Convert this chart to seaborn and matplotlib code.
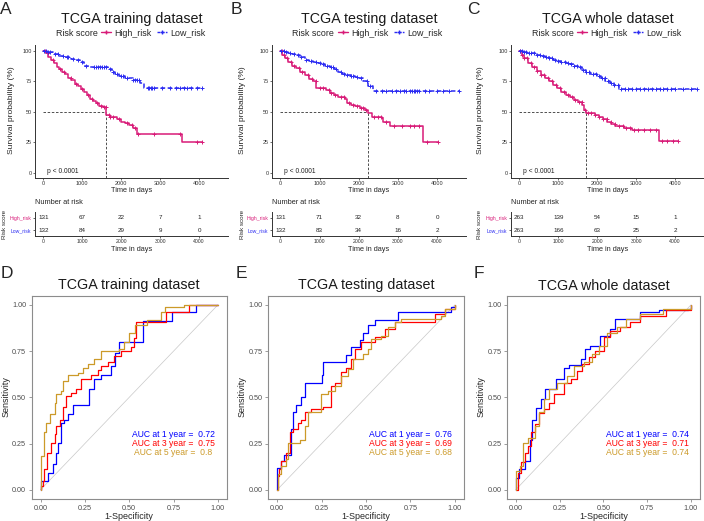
import numpy as np
import pandas as pd
import matplotlib
matplotlib.use("Agg")
import matplotlib.pyplot as plt
from matplotlib.lines import Line2D
import seaborn as sns

W, H = 704, 521

titles = ["TCGA training dataset", "TCGA testing dataset", "TCGA whole dataset"]
km_letters = ["A", "B", "C"]
roc_letters = ["D", "E", "F"]
groups = ["High_risk", "Low_risk"]

# Kaplan-Meier curves (days, survival %)
a_high_t = [0, 60, 130, 200, 270, 340, 410, 480, 560, 640, 720, 800, 880, 960, 1040, 1120, 1200, 1280, 1360, 1440, 1520, 1611, 1700, 1800, 1900, 2000, 2100, 2200, 2300, 2413, 3555, 4084]
a_high_s = [100, 98, 95, 93, 90, 87, 85, 83, 81, 78, 76, 73, 71, 69, 66, 64, 61, 59, 57, 55, 54, 47.5, 46, 45.5, 44, 42, 41, 39, 37, 32, 25.5, 25.5]
a_low_t = [0, 100, 250, 400, 550, 700, 850, 950, 1050, 1200, 1500, 1650, 1750, 1850, 1950, 2100, 2300, 2480, 2580, 4100]
a_low_s = [100, 99, 97.5, 96, 95, 93.5, 92.5, 91, 88, 87, 86.5, 85, 83, 81, 79.5, 78, 76.5, 74, 70, 70]

b_high_t = [0, 50, 120, 196, 300, 409, 500, 622, 720, 835, 921, 1176, 1262, 1380, 1475, 1645, 1688, 1800, 1901, 2029, 2150, 2240, 2327, 2583, 2626, 2796, 3632, 4015]
b_high_s = [100, 97, 94, 91, 88, 86, 83, 80, 77, 75, 69.5, 68, 65.5, 64, 62.5, 61, 57, 56, 54.5, 53, 51.5, 49, 45.5, 45, 42, 38.5, 25.5, 25.5]
b_low_t = [0, 100, 196, 300, 409, 500, 622, 720, 835, 950, 1048, 1150, 1262, 1370, 1475, 1580, 1688, 1800, 1901, 1986, 2114, 2242, 2370, 4569]
b_low_s = [100, 99, 98.5, 97.5, 96.5, 95, 93, 92, 91, 90, 89, 88, 87, 85, 83, 81.5, 80.5, 79.5, 79, 77.5, 75, 71.5, 67.5, 67.5]

c_high_t = [0, 60, 119, 220, 332, 440, 546, 650, 759, 860, 972, 1080, 1185, 1290, 1398, 1500, 1611, 1654, 1720, 1824, 1930, 2037, 2150, 2251, 2360, 2464, 2677, 2890, 3572, 4083]
c_high_s = [100, 97, 94, 90.5, 87, 83.5, 80.5, 77.5, 75, 72, 69.5, 66.5, 64, 62, 60, 58, 55.5, 51.5, 49.5, 49, 47.5, 46, 44, 42, 40, 38.5, 36.5, 35, 26, 26]
c_low_t = [0, 100, 200, 332, 450, 550, 650, 759, 870, 980, 1080, 1185, 1290, 1400, 1500, 1611, 1720, 1824, 1995, 2100, 2208, 2320, 2421, 2566, 4552]
c_low_s = [100, 99.5, 98.5, 98, 97, 96, 95, 94, 93, 92, 91, 90, 89, 88, 86.5, 84.5, 83, 81.5, 79.5, 77.5, 75, 73.5, 72, 69, 69]

# censor marks (days)
a_high_cens = [40, 120, 250, 420, 520, 700, 830, 1000, 1150, 1250, 1380, 1480, 1560, 1600, 1680, 1720, 1790, 1950, 2150, 2280, 2350, 2420, 2850, 3500, 3950, 4080]
a_low_cens = [20, 60, 110, 180, 300, 380, 500, 600, 640, 760, 900, 1000, 1100, 1300, 1350, 1400, 1450, 1500, 1550, 1600, 1700, 1780, 1900, 2000, 2050, 2150, 2300, 2350, 2400, 2450, 2680, 2720, 2760, 2800, 2850, 3050, 3250, 3400, 3500, 3600, 3700, 3800, 3950, 4080]
b_high_cens = [30, 80, 160, 280, 350, 480, 560, 700, 800, 900, 1000, 1100, 1230, 1300, 1400, 1550, 1620, 1750, 1850, 1950, 2050, 2120, 2180, 2400, 2500, 2560, 2700, 2900, 3100, 3300, 3400, 3550, 3750, 4020]
b_low_cens = [20, 80, 140, 250, 350, 450, 520, 650, 780, 900, 1000, 1100, 1200, 1300, 1350, 1420, 1550, 1620, 1700, 1800, 1850, 1950, 2050, 2200, 2300, 2450, 2600, 2700, 2850, 2950, 3050, 3150, 3200, 3300, 3350, 3400, 3450, 3500, 3550, 3700, 3800, 4000, 4150, 4300, 4560]
c_high_cens = [20, 60, 120, 200, 300, 380, 460, 560, 640, 740, 840, 940, 1040, 1140, 1240, 1340, 1440, 1540, 1600, 1680, 1760, 1850, 1950, 2050, 2150, 2250, 2350, 2450, 2550, 2650, 2750, 2850, 2950, 3050, 3200, 3350, 3500, 3650, 3800, 3950, 4080]
c_low_cens = [20, 60, 110, 170, 240, 300, 380, 450, 520, 600, 680, 760, 840, 920, 1000, 1080, 1160, 1240, 1320, 1400, 1480, 1560, 1640, 1720, 1800, 1880, 1960, 2040, 2120, 2200, 2280, 2360, 2440, 2520, 2600, 2700, 2800, 2900, 3000, 3100, 3200, 3300, 3400, 3500, 3600, 3700, 3800, 3900, 4000, 4200, 4400, 4550]

medians = [1611, 2240, 1720]

# number at risk
risk_times = [0, 1000, 2000, 3000, 4000]
a_risk_high = [131, 67, 22, 7, 1]
a_risk_low = [132, 84, 29, 9, 0]
b_risk_high = [131, 71, 32, 8, 0]
b_risk_low = [132, 83, 34, 16, 2]
c_risk_high = [263, 139, 54, 15, 1]
c_risk_low = [263, 166, 63, 25, 2]

# time dependent ROC curves (1-specificity, sensitivity)
d_1y_fpr = [0, 0, 0.041, 0.069, 0.088, 0.097, 0.116, 0.135, 0.154, 0.182, 0.275, 0.303, 0.341, 0.397, 0.42, 0.44, 0.577, 0.744, 0.875, 1.0]
d_1y_tpr = [0, 0.047, 0.09, 0.137, 0.2, 0.255, 0.36, 0.38, 0.41, 0.46, 0.544, 0.6, 0.62, 0.67, 0.74, 0.80, 0.915, 0.96, 1.0, 1.0]
d_3y_fpr = [0, 0.004, 0.013, 0.022, 0.037, 0.06, 0.079, 0.088, 0.107, 0.125, 0.144, 0.172, 0.2, 0.228, 0.285, 0.322, 0.341, 0.378, 0.416, 0.453, 0.509, 0.528, 0.54, 0.71, 0.84, 1.0]
d_3y_tpr = [0, 0.02, 0.047, 0.11, 0.2, 0.255, 0.30, 0.345, 0.38, 0.45, 0.51, 0.526, 0.544, 0.6, 0.62, 0.65, 0.67, 0.69, 0.725, 0.75, 0.77, 0.82, 0.91, 0.96, 1.0, 1.0]
d_5y_fpr = [0, 0.004, 0.019, 0.032, 0.056, 0.079, 0.088, 0.116, 0.125, 0.154, 0.21, 0.238, 0.266, 0.303, 0.341, 0.44, 0.47, 0.50, 0.53, 0.60, 0.68, 0.70, 0.81, 1.0]
d_5y_tpr = [0, 0.18, 0.31, 0.36, 0.41, 0.47, 0.52, 0.535, 0.59, 0.62, 0.63, 0.66, 0.68, 0.71, 0.75, 0.76, 0.80, 0.85, 0.89, 0.92, 0.96, 0.99, 1.0, 1.0]

e_1y_fpr = [0, 0, 0.023, 0.038, 0.079, 0.088, 0.107, 0.135, 0.154, 0.252, 0.258, 0.389, 0.417, 0.464, 0.483, 0.511, 0.549, 0.68, 0.98, 1.0]
e_1y_tpr = [0, 0.12, 0.155, 0.19, 0.33, 0.42, 0.46, 0.5, 0.58, 0.62, 0.69, 0.73, 0.77, 0.81, 0.85, 0.89, 0.92, 0.96, 0.99, 1.0]
e_3y_fpr = [0, 0.004, 0.013, 0.023, 0.051, 0.07, 0.088, 0.117, 0.135, 0.154, 0.192, 0.258, 0.305, 0.323, 0.361, 0.389, 0.417, 0.436, 0.474, 0.549, 0.605, 0.662, 0.887, 0.944, 1.0]
e_3y_tpr = [0, 0.074, 0.11, 0.155, 0.2, 0.31, 0.33, 0.36, 0.38, 0.42, 0.435, 0.45, 0.56, 0.58, 0.635, 0.66, 0.705, 0.76, 0.80, 0.825, 0.87, 0.905, 0.95, 0.98, 1.0]
e_5y_fpr = [0, 0.004, 0.023, 0.051, 0.06, 0.126, 0.154, 0.173, 0.248, 0.286, 0.323, 0.361, 0.398, 0.426, 0.483, 0.511, 0.53, 0.586, 0.624, 0.662, 0.699, 0.925, 0.944, 1.0]
e_5y_tpr = [0, 0.083, 0.13, 0.165, 0.255, 0.27, 0.345, 0.42, 0.52, 0.535, 0.56, 0.617, 0.653, 0.707, 0.734, 0.76, 0.815, 0.833, 0.88, 0.906, 0.924, 0.94, 0.98, 1.0]

f_1y_fpr = [0, 0, 0.019, 0.051, 0.079, 0.092, 0.116, 0.144, 0.167, 0.229, 0.276, 0.304, 0.37, 0.398, 0.426, 0.482, 0.538, 0.567, 0.707, 0.82, 0.985, 1.0]
f_1y_tpr = [0, 0.065, 0.11, 0.155, 0.27, 0.38, 0.445, 0.49, 0.545, 0.60, 0.66, 0.675, 0.707, 0.76, 0.78, 0.833, 0.87, 0.924, 0.96, 0.97, 0.98, 1.0]
f_3y_fpr = [0, 0.013, 0.032, 0.051, 0.069, 0.088, 0.107, 0.135, 0.163, 0.19, 0.219, 0.276, 0.313, 0.351, 0.379, 0.416, 0.454, 0.501, 0.538, 0.595, 0.651, 0.707, 0.857, 1.0]
f_3y_tpr = [0, 0.09, 0.15, 0.2, 0.237, 0.31, 0.354, 0.418, 0.436, 0.472, 0.517, 0.58, 0.6, 0.644, 0.68, 0.716, 0.752, 0.825, 0.86, 0.88, 0.906, 0.942, 0.97, 1.0]
f_5y_fpr = [0, 0.004, 0.023, 0.041, 0.069, 0.107, 0.135, 0.163, 0.191, 0.238, 0.295, 0.332, 0.388, 0.435, 0.473, 0.52, 0.576, 0.632, 0.707, 0.838, 1.0]
f_5y_tpr = [0, 0.10, 0.128, 0.255, 0.28, 0.345, 0.42, 0.49, 0.544, 0.58, 0.617, 0.67, 0.69, 0.734, 0.78, 0.85, 0.88, 0.924, 0.95, 0.98, 1.0]

auc_1y = ["0.72", "0.76", "0.74"]
auc_3y = ["0.75", "0.69", "0.71"]
auc_5y = ["0.8", "0.68", "0.74"]

km_sets = [
    (a_high_t, a_high_s, a_high_cens, a_low_t, a_low_s, a_low_cens, a_risk_high, a_risk_low),
    (b_high_t, b_high_s, b_high_cens, b_low_t, b_low_s, b_low_cens, b_risk_high, b_risk_low),
    (c_high_t, c_high_s, c_high_cens, c_low_t, c_low_s, c_low_cens, c_risk_high, c_risk_low),
]
roc_sets = [
    [(d_1y_fpr, d_1y_tpr), (d_3y_fpr, d_3y_tpr), (d_5y_fpr, d_5y_tpr)],
    [(e_1y_fpr, e_1y_tpr), (e_3y_fpr, e_3y_tpr), (e_5y_fpr, e_5y_tpr)],
    [(f_1y_fpr, f_1y_tpr), (f_3y_fpr, f_3y_tpr), (f_5y_fpr, f_5y_tpr)],
]

hi_col = "#D81B78"
lo_col = "#2B2BF2"
roc_cols = ["#0000FF", "#FF0000", "#CC9A29"]

sns.set_theme(style="white")
plt.rcParams["font.family"] = ["Liberation Sans", "DejaVu Sans"]

fig = plt.figure(figsize=(W / 100, H / 100), dpi=100)


def add_ax(l, t, r, b):
    return fig.add_axes([l / W, 1 - b / H, (r - l) / W, (b - t) / H])


def ftext(x, y, s, **kw):
    fig.text(x / W, 1 - y / H, s, **kw)


def step_at(t, s, c):
    idx = np.searchsorted(t, c, side="right") - 1
    return np.asarray(s)[idx]


km_left = [35, 272, 511]
km_right = [228, 466, 704]
km_ylab_x = [12, 242.5, 481]
tab_lab_x = [5, 243, 480]
top_letter_x = [0, 231, 467]
xlim_km = (-215, 4740)

for i in range(3):
    l, r = km_left[i], km_right[i]
    cx = (l + r) / 2
    ht, hs, hc, lt, lsv, lc, rh, rl = km_sets[i]

    ax = add_ax(l, 45, r, 177.5)
    med = medians[i]
    ax.plot([0, med], [50, 50], ls=(0, (3, 2)), color="#333333", lw=0.6)
    ax.plot([med, med], [-3.7, 50], ls=(0, (3, 2)), color="#333333", lw=0.6)
    for t, s, cen, col, ls in [(ht, hs, hc, hi_col, "-"), (lt, lsv, lc, lo_col, (0, (3, 1.6)))]:
        df = pd.DataFrame({"t": t, "s": s})
        sns.lineplot(data=df, x="t", y="s", color=col, lw=1.1, linestyle=ls,
                     drawstyle="steps-post", estimator=None, ax=ax)
        cdf = pd.DataFrame({"t": cen, "s": step_at(t, s, cen)})
        sns.scatterplot(data=cdf, x="t", y="s", color=col, marker="+", s=12,
                        linewidth=0.7, ax=ax, zorder=3)
    ax.set_xlim(*xlim_km)
    ax.set_ylim(-3.7, 104.9)
    ax.set_xticks(risk_times)
    ax.set_yticks([0, 25, 50, 75, 100])
    ax.set_xlabel("")
    ax.set_ylabel("")
    sns.despine(ax=ax)
    for sp in ["left", "bottom"]:
        ax.spines[sp].set_linewidth(0.7)
        ax.spines[sp].set_color("#333333")
    ax.tick_params(bottom=True, left=True, length=1.5, width=0.5, pad=1,
                   labelsize=4, colors="#333333")
    ax.text(100, 1, "p < 0.0001", fontsize=4.8, ha="left", va="center", color="#222222")

    ftext(cx, 23, titles[i], fontsize=10.3, ha="center", va="baseline", color="#1a1a1a")
    ftext(top_letter_x[i], 14.5, km_letters[i], fontsize=12.5, ha="left", va="baseline")
    ftext(l + 20.5, 33, "Risk score", fontsize=6.4, ha="left", va="center")
    handles = [Line2D([], [], color=hi_col, lw=1, marker="+", markersize=3),
               Line2D([], [], color=lo_col, lw=1, ls=(0, (2, 1)), marker="+", markersize=3)]
    ax.legend(handles, groups, ncol=2, loc="center left", frameon=False,
              bbox_to_anchor=((l + 66) / W, 1 - 33 / H), bbox_transform=fig.transFigure,
              fontsize=6.4, handlelength=1.1, handletextpad=0.35, columnspacing=0.7,
              borderpad=0, borderaxespad=0)
    ftext(km_ylab_x[i], 110, "Survival probability (%)", fontsize=6.1, rotation=90,
          ha="center", va="center")
    ftext(cx, 191, "Time in days", fontsize=5.3, ha="center", va="center")

    # risk table
    tb = add_ax(l, 212, r, 236)
    for row, vals in [(2, rh), (1, rl)]:
        for tt, v in zip(risk_times, vals):
            tb.text(tt, row, str(v), fontsize=4.5, ha="center", va="center", color="#222222")
    tb.set_xlim(*xlim_km)
    tb.set_ylim(0.55, 2.45)
    tb.set_xticks(risk_times)
    tb.set_yticks([2, 1])
    tb.set_yticklabels(groups)
    for lab, col in zip(tb.get_yticklabels(), [hi_col, lo_col]):
        lab.set_color(col)
    sns.despine(ax=tb)
    for sp in ["left", "bottom"]:
        tb.spines[sp].set_linewidth(0.7)
        tb.spines[sp].set_color("#333333")
    tb.tick_params(bottom=True, left=True, length=1.5, width=0.5, pad=1, labelsize=3.7)
    tb.tick_params(axis="x", colors="#333333")
    ftext(l, 203, "Number at risk", fontsize=5.3, ha="left", va="center")
    ftext(tab_lab_x[i], 224, "Risk score", fontsize=4.5, rotation=90, ha="center", va="center")
    ftext(cx, 249.5, "Time in days", fontsize=5.3, ha="center", va="center")

roc_left = [31.7, 268.3, 507]
roc_right = [226.7, 463.7, 699.7]
roc_ylab_x = [6, 242, 481]
bot_letter_x = [1, 236, 474]

for i in range(3):
    l, r = roc_left[i], roc_right[i]
    cx = (l + r) / 2
    ax = add_ax(l, 295.7, r, 499)
    sns.lineplot(x=[0, 1], y=[0, 1], color="#C8C8C8", lw=0.5, ax=ax)
    for (fpr, tpr), col in zip(roc_sets[i], roc_cols):
        df = pd.DataFrame({"fpr": fpr, "tpr": tpr})
        sns.lineplot(data=df, x="fpr", y="tpr", color=col, lw=0.9,
                     drawstyle="steps-post", estimator=None, sort=False, ax=ax)
    labels = [f"AUC at 1 year =  {auc_1y[i]}", f"AUC at 3 year =  {auc_3y[i]}",
              f"AUC at 5 year =  {auc_5y[i]}"]
    for lab, yy, col in zip(labels, [0.30, 0.25, 0.20], roc_cols):
        ax.text(0.75, yy, lab, color=col, fontsize=6.2, ha="center", va="center")
    ax.set_xlim(-0.05, 1.05)
    ax.set_ylim(-0.05, 1.05)
    ticks = [0, 0.25, 0.5, 0.75, 1.0]
    ax.set_xticks(ticks)
    ax.set_yticks(ticks)
    ax.set_xticklabels([f"{v:.2f}" for v in ticks])
    ax.set_yticklabels([f"{v:.2f}" for v in ticks])
    ax.set_xlabel("")
    ax.set_ylabel("")
    for sp in ax.spines.values():
        sp.set_visible(True)
        sp.set_color("#8C8C8C")
        sp.set_linewidth(0.8)
    ax.tick_params(bottom=True, left=True, length=2.5, width=0.6, pad=1.5,
                   labelsize=5.2, colors="#4D4D4D")
    ax.tick_params(color="#8C8C8C")

    ftext(cx, 289.5, titles[i], fontsize=10.3, ha="center", va="baseline", color="#1a1a1a")
    ftext(bot_letter_x[i], 277.5, roc_letters[i], fontsize=12.5, ha="left", va="baseline")
    ftext(roc_ylab_x[i], 397, "Sensitivity", fontsize=6.5, rotation=90, ha="center", va="center")
    ftext(cx, 516.5, "1-Specificity", fontsize=6.5, ha="center", va="center")

fig.savefig("out.png", dpi=100)
